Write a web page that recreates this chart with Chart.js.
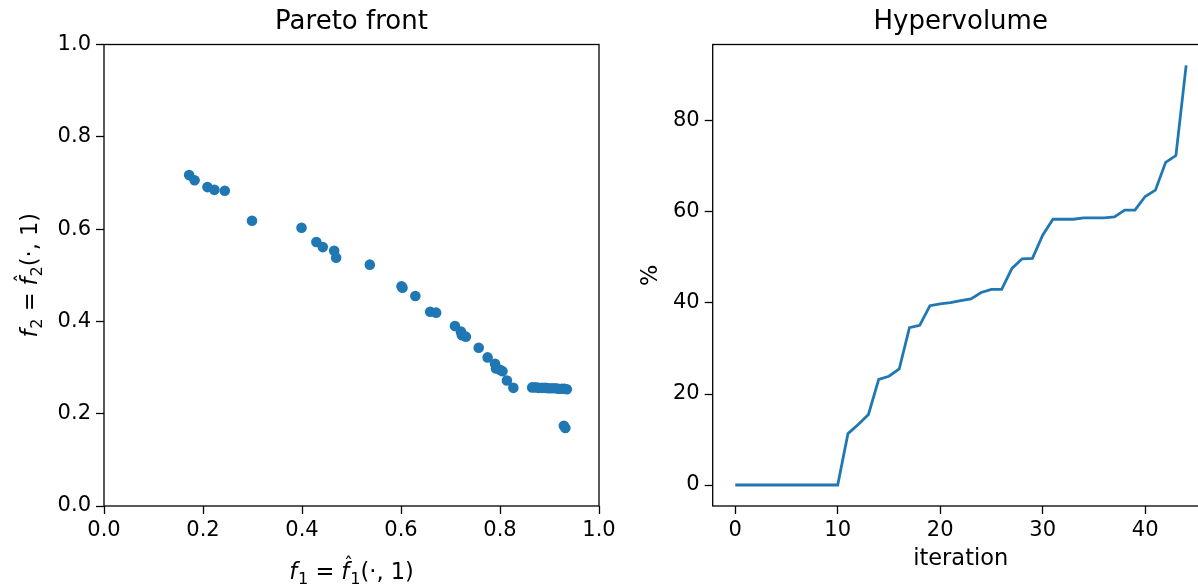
<!DOCTYPE html>
<html>
<head>
<meta charset="utf-8">
<script src="https://cdn.jsdelivr.net/npm/chart.js@4/dist/chart.umd.min.js"></script>
<style>
  html, body { margin: 0; padding: 0; background: #fff; overflow: hidden; width: 1198px; height: 586px; }
  #wrap { position: relative; width: 1198px; height: 586px; overflow: hidden; }
  #pareto { position: absolute; left: 0; top: 0; }
  #hv { position: absolute; left: 620px; top: 0; }
</style>
</head>
<body>
<div id="wrap">
  <canvas id="pareto" width="640" height="586"></canvas>
  <canvas id="hv" width="620" height="586"></canvas>
</div>
<script>
// Non-dominated points of the last iteration
const paretoF1 = [0.172, 0.183, 0.209, 0.223, 0.244, 0.299, 0.399, 0.429, 0.442, 0.465, 0.469,
                  0.537, 0.601, 0.603, 0.629, 0.659, 0.671, 0.709, 0.721, 0.723, 0.731, 0.757,
                  0.775, 0.790, 0.792, 0.800, 0.805, 0.814, 0.827,
                  0.865, 0.872, 0.878, 0.885, 0.892, 0.898, 0.905, 0.912, 0.918, 0.925, 0.930, 0.935,
                  0.929, 0.932];
const paretoF2 = [0.717, 0.706, 0.691, 0.685, 0.683, 0.618, 0.603, 0.572, 0.561, 0.553, 0.538,
                  0.523, 0.476, 0.473, 0.455, 0.421, 0.419, 0.390, 0.378, 0.370, 0.367, 0.343,
                  0.322, 0.308, 0.298, 0.295, 0.292, 0.272, 0.256,
                  0.257, 0.257, 0.256, 0.256, 0.256, 0.255, 0.255, 0.255, 0.254, 0.254, 0.254, 0.253,
                  0.174, 0.169];

// Hypervolume (%) per iteration
const iterations = [0, 1, 2, 3, 4, 5, 6, 7, 8, 9, 10, 11, 12, 13, 14, 15, 16, 17, 18, 19, 20, 21, 22,
                    23, 24, 25, 26, 27, 28, 29, 30, 31, 32, 33, 34, 35, 36, 37, 38, 39, 40, 41, 42, 43, 44];
const hypervolume = [0, 0, 0, 0, 0, 0, 0, 0, 0, 0, 0, 11.3, 13.3, 15.5, 23.2, 23.9, 25.5, 34.6, 35.1,
                     39.4, 39.8, 40.1, 40.5, 40.9, 42.3, 43.0, 43.0, 47.6, 49.7, 49.8, 54.9, 58.4,
                     58.4, 58.4, 58.7, 58.7, 58.7, 58.9, 60.4, 60.4, 63.4, 64.8, 70.9, 72.4, 92.2];

// Tick positions
const unitTicks = [0, 0.2, 0.4, 0.6, 0.8, 1.0];
const iterTicks = [0, 10, 20, 30, 40];
const percentTicks = [0, 20, 40, 60, 80];

const BLUE = '#1f77b4';
const FAMILY = "'DejaVu Sans', 'Liberation Sans', sans-serif";
const TICK_FONT = { family: FAMILY, size: 21 };
const TITLE_FONT = { family: FAMILY, size: 26, weight: 'normal' };
const LABEL_SIZE = 22.5;

// Box around the plotting area, drawn on top of the data like matplotlib spines
const framePlugin = {
  id: 'frame',
  afterDatasetsDraw(chart) {
    const { ctx, chartArea: a } = chart;
    ctx.save();
    ctx.strokeStyle = '#000';
    ctx.lineWidth = 1.3;
    ctx.strokeRect(a.left, a.top, a.right - a.left, a.bottom - a.top);
    ctx.restore();
  }
};

// Small typesetter for labels like f1 = f^1(., 1): italic f, subscripts and a hat
function drawMath(ctx, parts, size) {
  const fontFor = p => `${p.italic ? 'italic ' : ''}${p.sub ? size * 0.72 : size}px ${FAMILY}`;
  const widths = parts.map(p => {
    ctx.font = fontFor(p);
    return ctx.measureText(p.t).width + (p.gap || 0);
  });
  const total = widths.reduce((s, w) => s + w, 0);
  let x = -total / 2;
  ctx.fillStyle = '#000';
  ctx.textBaseline = 'alphabetic';
  parts.forEach((p, i) => {
    ctx.font = fontFor(p);
    ctx.textAlign = 'left';
    ctx.fillText(p.t, x + (p.lead || 0), p.sub ? size * 0.24 : 0);
    if (p.hat) {
      ctx.font = `${size * 0.8}px ${FAMILY}`;
      ctx.textAlign = 'center';
      ctx.fillText('\u02C6', x + widths[i] / 2 + size * 0.12, -size * 0.42);
    }
    x += widths[i];
  });
}

function mathParts(k) {
  return [
    { t: 'f', italic: true, gap: 1 }, { t: k, sub: true },
    { t: '=', lead: 7, gap: 14 },
    { t: 'f', italic: true, hat: true, gap: 1 }, { t: k, sub: true },
    { t: '(\u00B7, 1)' }
  ];
}

const axisLabelsPlugin = {
  id: 'mathLabels',
  afterDraw(chart) {
    const { ctx, chartArea: a } = chart;
    ctx.save();
    ctx.translate((a.left + a.right) / 2, 579);
    drawMath(ctx, mathParts('1'), LABEL_SIZE);
    ctx.restore();
    ctx.save();
    ctx.translate(37, (a.top + a.bottom) / 2);
    ctx.rotate(-Math.PI / 2);
    drawMath(ctx, mathParts('2'), LABEL_SIZE);
    ctx.restore();
  }
};

function fixedTicks(list) {
  return scale => { scale.ticks = list.map(v => ({ value: v })); };
}

function axisStyle(extra) {
  return Object.assign({
    type: 'linear',
    border: { display: false },
    grid: { display: true, drawOnChartArea: false, drawTicks: true, tickLength: 8, tickWidth: 1.3, tickColor: '#000' },
    ticks: { color: '#000', font: TICK_FONT, padding: 4, maxRotation: 0, autoSkip: false }
  }, extra);
}

Chart.defaults.font.family = FAMILY;

new Chart(document.getElementById('pareto'), {
  type: 'scatter',
  data: {
    datasets: [{
      data: paretoF1.map((v, i) => ({ x: v, y: paretoF2[i] })),
      backgroundColor: BLUE,
      borderWidth: 0,
      pointRadius: 5.3,
      pointHoverRadius: 5.3
    }]
  },
  options: {
    responsive: false,
    animation: false,
    devicePixelRatio: 1,
    layout: { padding: { left: 0, right: 41, top: 0, bottom: 0 } },
    plugins: {
      legend: { display: false },
      tooltip: { enabled: false },
      title: { display: true, fullSize: false, text: 'Pareto front', color: '#000', font: TITLE_FONT, padding: { top: 6.4, bottom: 6.9 } }
    },
    scales: {
      x: axisStyle({
        min: 0, max: 1,
        afterBuildTicks: fixedTicks(unitTicks),
        afterFit: s => { s.height = 80; },
        ticks: { color: '#000', font: TICK_FONT, padding: 4, maxRotation: 0, autoSkip: false, callback: v => v.toFixed(1) }
      }),
      y: axisStyle({
        min: 0, max: 1,
        afterBuildTicks: fixedTicks(unitTicks),
        afterFit: s => { s.width = 104; },
        ticks: { color: '#000', font: TICK_FONT, padding: 5, autoSkip: false, callback: v => v.toFixed(1) }
      })
    }
  },
  plugins: [framePlugin, axisLabelsPlugin]
});

new Chart(document.getElementById('hv'), {
  type: 'line',
  data: {
    datasets: [{
      data: iterations.map((it, i) => ({ x: it, y: hypervolume[i] })),
      borderColor: BLUE,
      borderWidth: 2.8,
      pointRadius: 0,
      tension: 0,
      fill: false
    }]
  },
  options: {
    responsive: false,
    animation: false,
    devicePixelRatio: 1,
    layout: { padding: { left: 0, right: 31.3, top: 0, bottom: 0 } },
    plugins: {
      legend: { display: false },
      tooltip: { enabled: false },
      title: { display: true, fullSize: false, text: 'Hypervolume', color: '#000', font: TITLE_FONT, padding: { top: 6.4, bottom: 6.9 } }
    },
    scales: {
      x: axisStyle({
        min: -2.2, max: 46.2,
        afterBuildTicks: fixedTicks(iterTicks),
        afterFit: s => { s.height = 80; },
        title: { display: true, text: 'iteration', color: '#000', font: { family: FAMILY, size: LABEL_SIZE }, padding: { top: 13.2, bottom: 13.2 } }
      }),
      y: axisStyle({
        min: -4.61, max: 96.8,
        afterBuildTicks: fixedTicks(percentTicks),
        afterFit: s => { s.width = 92.7; },
        ticks: { color: '#000', font: TICK_FONT, padding: 5, autoSkip: false },
        title: { display: true, text: '%', color: '#000', font: { family: FAMILY, size: LABEL_SIZE }, padding: { top: 18, bottom: 18 } }
      })
    }
  },
  plugins: [framePlugin]
});
</script>
</body>
</html>
